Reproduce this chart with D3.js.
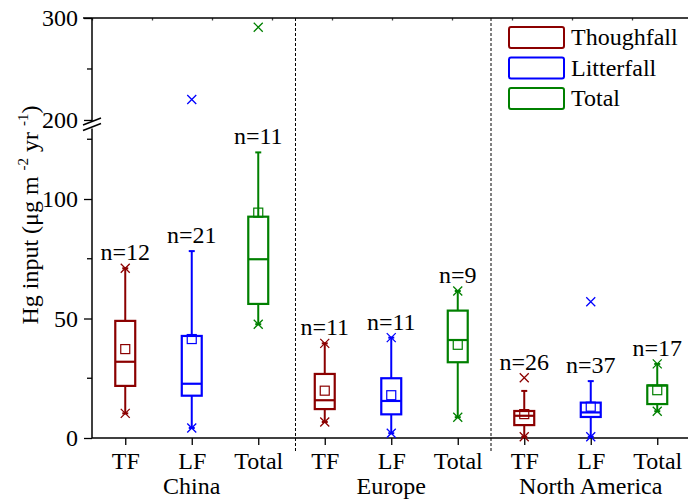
<!DOCTYPE html>
<html>
<head>
<meta charset="utf-8">
<script src="https://cdn.jsdelivr.net/npm/d3@7"></script>
<style>
  body { margin: 0; background: #fff; }
  svg text { font-family: "Liberation Serif", "Times New Roman", serif; }
</style>
</head>
<body>
<div id="chart"></div>
<script>
const width = 688,
      height = 499;

// categories
const regions = ["China", "Europe", "North America"];
const types = ["TF", "LF", "Total"];
const typeNames = ["Thoughfall", "Litterfall", "Total"];
const colors = ["#8b0000", "#0000ff", "#008000"];

// box stats, order: China TF, LF, Total, Europe TF, LF, Total, NA TF, LF, Total
const counts    = [12, 21, 11, 11, 11, 9, 26, 37, 17];
const q1        = [21.8, 17.7, 56.1, 12.1, 9.9, 31.7, 5.4, 8.8, 14.2];
const medians   = [31.9, 22.7, 74.8, 15.8, 15.5, 41.0, 9.3, 10.7, 22.0];
const q3        = [49.0, 42.7, 92.6, 26.8, 25.0, 53.3, 11.3, 14.8, 22.0];
const means     = [37.2, 41.4, 94.3, 19.8, 17.9, 39.0, 10.0, 13.1, 20.0];
const whiskerLo = [10.3, 4.2, 47.6, 6.7, 2.0, 8.7, 0.5, 0.5, 11.2];
const whiskerHi = [71.0, 78.2, 119.5, 39.6, 42.0, 61.5, 19.7, 23.8, 31.0];
const minimums  = [10.3, 4.2, 47.6, 6.7, 2.0, 8.7, 0.5, 0.5, 11.2];
const maximums  = [71.0, 220.0, 291.0, 39.6, 42.0, 61.5, 25.2, 57.0, 31.0];

// y ticks for the two parts of the broken axis
const lowerTicks = [0, 50, 100];
const lowerMinor = [25, 75, 125];
const upperTicks = [200, 300];
const upperMinor = [250];
const separators = [3.56, 6.5];

const boxes = counts.map((n, i) => ({
  n: n,
  pos: i + 1,
  type: i % 3,
  q1: q1[i], med: medians[i], q3: q3[i], mean: means[i],
  lo: whiskerLo[i], hi: whiskerHi[i],
  min: minimums[i], max: maximums[i]
}));

const svg = d3.select("#chart")
  .append("svg")
    .attr("width", width)
    .attr("height", height);

const x = d3.scaleLinear()
    .domain([0.5, 9.5])
    .range([92, 690.5]);

const yLow = d3.scaleLinear()
    .domain([0, 129.5])
    .range([438, 128.5]);

const yHigh = d3.scaleLinear()
    .domain([198, 300])
    .range([122, 18]);

// pick the right half of the broken axis
const y = v => v > 160 ? yHigh(v) : yLow(v);

// top frame line with its tiny ticks
const topScale = d3.scaleLinear().domain([0, 10]).range([92, 692]);
svg.append("g")
    .attr("transform", "translate(0,18)")
    .call(d3.axisTop(topScale).ticks(10).tickSize(-2.5).tickFormat(""))
    .call(g => g.select(".domain").remove())
    .selectAll("line").attr("stroke", "#444");
svg.append("line")
    .attr("x1", 83).attr("x2", width)
    .attr("y1", 18).attr("y2", 18)
    .attr("stroke", "#000").attr("stroke-width", 1.5);

// separators between regions
svg.append("g")
  .selectAll("line")
  .data(separators)
  .enter()
  .append("line")
    .attr("x1", d => x(d)).attr("x2", d => x(d))
    .attr("y1", 18).attr("y2", 453)
    .attr("stroke", "#000")
    .attr("stroke-width", 1)
    .attr("stroke-dasharray", "3,2");

// y axis, lower part
const axLow = svg.append("g")
    .attr("transform", "translate(92,0)");
axLow.call(d3.axisLeft(yLow).tickValues(lowerTicks).tickSize(8).tickPadding(6))
    .call(g => g.select(".domain").remove());
axLow.selectAll(".minor")
    .data(lowerMinor)
    .enter()
    .append("line")
    .attr("x1", -5).attr("x2", 0)
    .attr("y1", d => yLow(d)).attr("y2", d => yLow(d))
    .attr("stroke", "#000").attr("stroke-width", 1.3);

// y axis, upper part
const axHigh = svg.append("g")
    .attr("transform", "translate(92,0)");
axHigh.call(d3.axisLeft(yHigh).tickValues(upperTicks).tickSize(8).tickPadding(6))
    .call(g => g.select(".domain").remove());
axHigh.selectAll(".minor")
    .data(upperMinor)
    .enter()
    .append("line")
    .attr("x1", -5).attr("x2", 0)
    .attr("y1", d => yHigh(d)).attr("y2", d => yHigh(d))
    .attr("stroke", "#000").attr("stroke-width", 1.3);

svg.selectAll(".tick line").attr("stroke-width", 1.3);
svg.selectAll(".tick text")
    .attr("font-size", 24)
    .style("font-family", "'Liberation Serif', serif")
    .attr("fill", "#000");

// axis lines with break
svg.append("line")
    .attr("x1", 92).attr("x2", 92)
    .attr("y1", yLow(0)).attr("y2", yLow.range()[1])
    .attr("stroke", "#000").attr("stroke-width", 1.5);
svg.append("line")
    .attr("x1", 92).attr("x2", 92)
    .attr("y1", yHigh.range()[0]).attr("y2", 18)
    .attr("stroke", "#000").attr("stroke-width", 1.5);
svg.append("g")
  .selectAll("line")
  .data([121.5, 127])
  .enter()
  .append("line")
    .attr("x1", 83).attr("x2", 101)
    .attr("y1", d => d + 3.5).attr("y2", d => d - 3.5)
    .attr("stroke", "#000").attr("stroke-width", 1.5);

// x axis
const xAxis = svg.append("g")
    .attr("transform", `translate(0,${yLow(0)})`);
xAxis.call(d3.axisBottom(x)
      .tickValues(boxes.map(d => d.pos))
      .tickFormat((d, i) => types[i % 3])
      .tickSize(7)
      .tickPadding(7))
    .call(g => g.select(".domain").remove());
xAxis.selectAll("text")
    .attr("font-size", 24)
    .style("font-family", "'Liberation Serif', serif")
    .attr("fill", "#000");
xAxis.selectAll("line").attr("stroke-width", 1.3);
svg.append("line")
    .attr("x1", 92).attr("x2", width)
    .attr("y1", yLow(0)).attr("y2", yLow(0))
    .attr("stroke", "#000").attr("stroke-width", 1.5);

// region labels
svg.append("g")
  .selectAll("text")
  .data(regions)
  .enter()
  .append("text")
    .attr("x", (d, i) => x(i * 3 + 2))
    .attr("y", 494)
    .attr("text-anchor", "middle")
    .attr("font-size", 24)
    .text(d => d);

// y title
const title = svg.append("text")
    .attr("transform", "translate(38,215) rotate(-90)")
    .attr("text-anchor", "middle")
    .attr("font-size", 24);
title.append("tspan").text("Hg input (\u03bcg m ");
title.append("tspan").attr("font-size", 15).attr("dy", -10).text("-2");
title.append("tspan").attr("dy", 10).text(" yr ");
title.append("tspan").attr("font-size", 15).attr("dy", -10).text("-1");
title.append("tspan").attr("dy", 10).text(")");

// boxes
const bw = x(1.3) - x(1);
const cross = 4.5;

const boxG = svg.append("g")
  .selectAll(".box")
  .data(boxes)
  .enter()
  .append("g")
    .attr("class", "box")
    .attr("transform", d => `translate(${x(d.pos)},0)`)
    .attr("stroke", d => colors[d.type])
    .attr("fill", "none");

boxG.each(function(d) {
  const g = d3.select(this);
  // whiskers
  g.append("line")
      .attr("y1", yLow(d.q3)).attr("y2", yLow(d.hi))
      .attr("stroke-width", 2);
  g.append("line")
      .attr("y1", yLow(d.q1)).attr("y2", yLow(d.lo))
      .attr("stroke-width", 2);
  [d.lo, d.hi].forEach(v => {
    g.append("line")
        .attr("x1", -3).attr("x2", 3)
        .attr("y1", yLow(v)).attr("y2", yLow(v))
        .attr("stroke-width", 2);
  });
  // box
  g.append("rect")
      .attr("x", -bw / 2)
      .attr("width", bw)
      .attr("y", yLow(d.q3))
      .attr("height", yLow(d.q1) - yLow(d.q3))
      .attr("stroke-width", 2.2);
  g.append("line")
      .attr("x1", -bw / 2).attr("x2", bw / 2)
      .attr("y1", yLow(d.med)).attr("y2", yLow(d.med))
      .attr("stroke-width", 2.2);
  // mean
  g.append("rect")
      .attr("x", -4.5).attr("width", 9)
      .attr("y", yLow(d.mean) - 4.5).attr("height", 9)
      .attr("stroke-width", 1.2);
  // min / max markers
  [d.min, d.max].forEach(v => {
    const cy = y(v);
    g.append("path")
        .attr("d", `M${-cross},${cy - cross}L${cross},${cy + cross}M${-cross},${cy + cross}L${cross},${cy - cross}`)
        .attr("stroke-width", 1.3);
  });
});

// n labels
svg.append("g")
  .selectAll("text")
  .data(boxes)
  .enter()
  .append("text")
    .attr("x", d => x(d.pos))
    .attr("y", d => {
      const top = (d.max - d.hi < 10) ? Math.max(d.hi, d.max) : d.hi;
      return yLow(top) - 8;
    })
    .attr("text-anchor", "middle")
    .attr("font-size", 24)
    .text(d => "n=" + d.n);

// legend
const legend = svg.append("g")
  .selectAll("g")
  .data(typeNames)
  .enter()
  .append("g")
    .attr("transform", (d, i) => `translate(509,${27 + i * 30.5})`);
legend.append("rect")
    .attr("width", 55).attr("height", 21)
    .attr("rx", 2)
    .attr("fill", "none")
    .attr("stroke", (d, i) => colors[i])
    .attr("stroke-width", 2);
legend.append("text")
    .attr("x", 62).attr("y", 18)
    .attr("font-size", 24)
    .text(d => d);
</script>
</body>
</html>
